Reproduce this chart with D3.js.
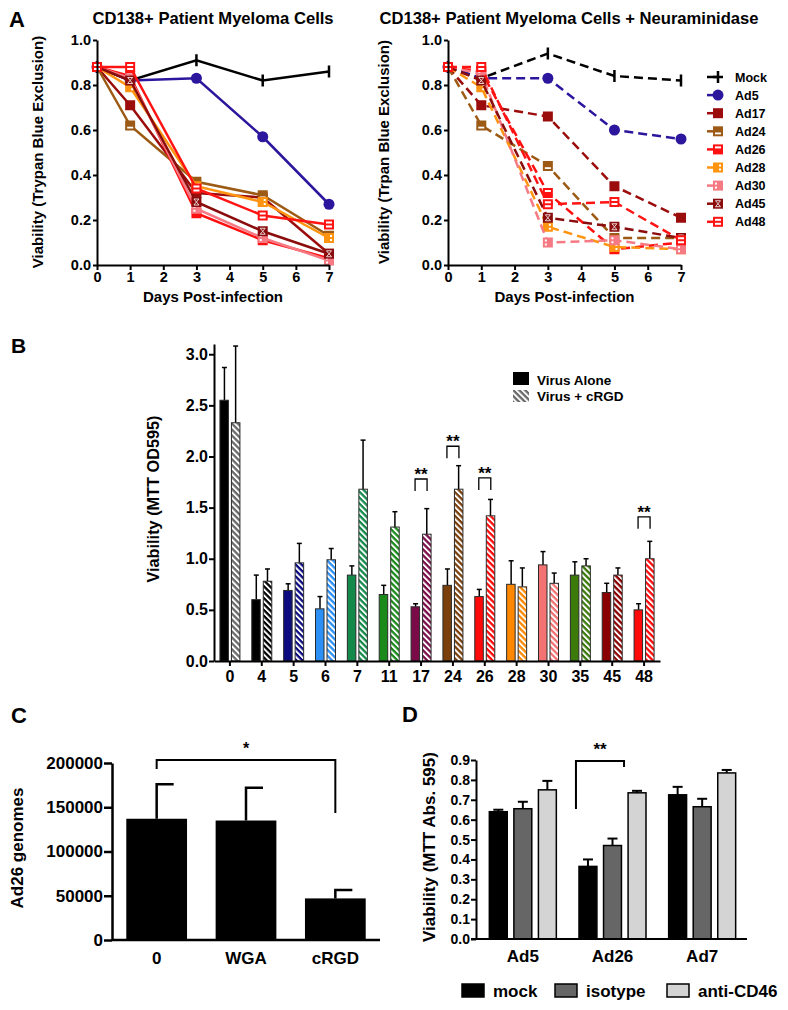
<!DOCTYPE html>
<html><head><meta charset="utf-8">
<script src="https://cdn.jsdelivr.net/npm/d3@7"></script>
<style>
body{margin:0;background:#fff}
svg{display:block}
text{font-family:"Liberation Sans",Arial,Helvetica,sans-serif;font-weight:bold;fill:#000}
</style></head><body>
<svg id="fig" width="788" height="1010"></svg>
<script>
// ---------- Panel A data ----------
const daysA = [0, 1, 3, 5, 7];
const seriesA = ["Mock","Ad5","Ad17","Ad24","Ad26","Ad28","Ad30","Ad45","Ad48"];
const colorsA = ["#000000","#2d169e","#9b0c0c","#9c5a14","#ff1010","#ff9410","#f57a84","#8a0c0c","#ff1414"];
// rows follow seriesA order
const viabilityCells = [
  [0.88,0.82,0.91,0.82,0.86],
  [0.88,0.82,0.83,0.57,0.27],
  [0.88,0.71,0.32,0.30,0.05],
  [0.88,0.62,0.37,0.31,0.13],
  [0.88,0.84,0.23,0.11,0.03],
  [0.88,0.79,0.35,0.28,0.12],
  [0.88,0.83,0.25,0.12,0.02],
  [0.88,0.82,0.28,0.15,0.05],
  [0.88,0.88,0.34,0.22,0.18]
];
const viabilityNeu = [
  [0.88,0.83,0.94,0.84,0.82],
  [0.88,0.83,0.83,0.60,0.56],
  [0.88,0.71,0.66,0.35,0.21],
  [0.88,0.62,0.44,0.12,0.12],
  [0.88,0.86,0.32,0.07,0.10],
  [0.88,0.79,0.17,0.08,0.07],
  [0.88,0.85,0.10,0.11,0.07],
  [0.88,0.82,0.21,0.17,0.12],
  [0.88,0.88,0.27,0.28,0.11]
];
const ticksA = [0,0.2,0.4,0.6,0.8,1.0];

// ---------- Panel B data ----------
const virusesB = ["0","4","5","6","7","11","17","24","26","28","30","35","45","48"];
const aloneB    = [2.55,0.60,0.69,0.51,0.84,0.65,0.53,0.74,0.63,0.75,0.94,0.84,0.67,0.50];
const aloneTopB = [2.87,0.84,0.755,0.63,0.93,0.74,0.56,0.90,0.70,0.98,1.07,0.97,0.76,0.56];
const rgdB      = [2.33,0.78,0.96,0.99,1.68,1.31,1.24,1.68,1.42,0.725,0.76,0.93,0.84,1.00];
const rgdTopB   = [3.08,0.90,1.15,1.10,2.16,1.46,1.49,1.91,1.58,0.91,0.86,1.00,0.91,1.17];
const aloneColorsB = ["#000000","#000000","#0c0c80","#2b8ff5","#138a4a","#1a8a1a","#7b0a48","#7a3f0a","#ff0a0a","#ff8800","#f47272","#3c7a0a","#8b0000","#ff0a0a"];
const rgdColorsB   = ["#6a6a6a","#000000","#0c0c80","#2b8ff5","#138a4a","#1a8a1a","#7b0a48","#7a3f0a","#ff0a0a","#ff8800","#f47272","#3c7a0a","#8b0000","#ff0a0a"];
const sigVirusesB = ["17","24","26","48"];
const sigTopB = [1.78,2.10,1.79,1.41];
const ticksB = [0,0.5,1.0,1.5,2.0,2.5,3.0];

// ---------- Panel C data ----------
const catsC = ["0","WGA","cRGD"];
const genomesC = [137000,135000,47000];
const genomesTopC = [176000,172000,56500];
const ticksC = [0,50000,100000,150000,200000];

// ---------- Panel D data ----------
const groupsD = ["Ad5","Ad26","Ad7"];
const seriesD = ["mock","isotype","anti-CD46"];
const colorsD = ["#000000","#666666","#d4d4d4"];
const mockD = [0.64,0.365,0.725];
const isotypeD = [0.655,0.47,0.665];
const antiD = [0.75,0.735,0.835];
const mockTopD = [0.65,0.40,0.765];
const isotypeTopD = [0.69,0.505,0.705];
const antiTopD = [0.795,0.745,0.85];
const ticksD = [0,0.1,0.2,0.3,0.4,0.5,0.6,0.7,0.8,0.9];

const svg = d3.select("#fig");
const defs = svg.append("defs");

function styleAxis(g, width, fontSize) {
  g.select(".domain").attr("stroke","#000").attr("stroke-width",width);
  g.selectAll(".tick line").attr("stroke","#000").attr("stroke-width",width);
  g.selectAll(".tick text").style("font-size",fontSize+"px").style("font-family","'Liberation Sans',Arial,sans-serif").style("font-weight","bold").attr("fill","#000");
}
function label(x,y,txt,size,anchor,rot){
  const t = svg.append("text").attr("transform",`translate(${x},${y})`+(rot?` rotate(${rot})`:""))
    .attr("text-anchor",anchor||"middle").style("font-size",size+"px").text(txt);
  return t;
}

// ---------- Panel A ----------
const yA = d3.scaleLinear().domain([0,1]).range([265,40]);
const xA1 = d3.scaleLinear().domain([0,7]).range([97,329]);
const xA2 = d3.scaleLinear().domain([0,7]).range([448,681]);

function marker(g, name, color, x, y, legend) {
  const m = g.append("g").attr("transform",`translate(${x},${y})`);
  if (name === "Mock") {
    m.append("path").attr("d", legend ? "M-5,0H5M0,-6V6" : "M0,-6V6").attr("stroke","#000").attr("stroke-width",2.5).attr("fill","none");
    return;
  }
  if (name === "Ad5") { m.append("circle").attr("r",5.5).attr("fill",color); return; }
  m.append("rect").attr("x",-5).attr("y",-5).attr("width",10).attr("height",10).attr("fill",color);
  const w = "#ffffff";
  if (name === "Ad24") m.append("rect").attr("x",-3).attr("y",1.2).attr("width",6).attr("height",1.8).attr("fill",w);
  if (name === "Ad26") m.append("rect").attr("x",-3).attr("y",-3).attr("width",6).attr("height",2).attr("fill",w);
  if (name === "Ad28" || name === "Ad30") {
    const dx = name === "Ad28" ? 1 : -3;
    m.append("rect").attr("x",dx).attr("y",-3).attr("width",2).attr("height",2).attr("fill",w);
    m.append("rect").attr("x",dx).attr("y",1).attr("width",2).attr("height",2).attr("fill",w);
  }
  if (name === "Ad45") m.append("path").attr("d","M-2.5,-3H2.5L0,0L2.5,3H-2.5L0,0Z").attr("fill","none").attr("stroke",w).attr("stroke-width",0.8);
  if (name === "Ad48") {
    m.append("rect").attr("x",-3).attr("y",-3).attr("width",6).attr("height",2).attr("fill",w);
    m.append("rect").attr("x",-3).attr("y",1).attr("width",6).attr("height",2).attr("fill",w);
  }
}

function panelA(xS, data, dashed) {
  const g = svg.append("g");
  const line = d3.line().x((d,j)=>xS(daysA[j])).y(d=>yA(d));
  seriesA.forEach((name,i)=>{
    g.append("path").datum(data[i]).attr("d",line).attr("fill","none")
      .attr("stroke",colorsA[i]).attr("stroke-width",2.5)
      .attr("stroke-dasharray", dashed ? "9,5" : null);
    data[i].forEach((v,j)=>marker(g,name,colorsA[i],xS(daysA[j]),yA(v)));
  });
  const ya = svg.append("g").attr("transform",`translate(${xS.range()[0]},0)`)
    .call(d3.axisLeft(yA).tickValues(ticksA).tickFormat(d3.format(".1f")).tickSize(4).tickPadding(2).tickSizeOuter(0));
  styleAxis(ya,2,14.5);
  const xa = svg.append("g").attr("transform",`translate(0,${yA(0)})`)
    .call(d3.axisBottom(xS).ticks(8).tickFormat(d3.format("d")).tickSize(5).tickPadding(2).tickSizeOuter(0));
  styleAxis(xa,2,14.5);
  const cx = (xS.range()[0]+xS.range()[1])/2;
  label(cx,302,"Days Post-infection",15);
}
panelA(xA1, viabilityCells, false);
panelA(xA2, viabilityNeu, true);
label(213,24,"CD138+ Patient Myeloma Cells",16.6);
label(569,24,"CD138+ Patient Myeloma Cells + Neuraminidase",16.6);
label(43,152,"Viability (Trypan Blue Exclusion)",15,"middle",-90);
label(389,152,"Viability (Trpan Blue Exclusion)",15,"middle",-90);
label(9,27,"A",22,"start");

// legend A
const legA = svg.append("g");
seriesA.forEach((name,i)=>{
  const y = 77 + i*18.1;
  legA.append("line").attr("x1",707).attr("x2",718).attr("y1",y).attr("y2",y).attr("stroke",colorsA[i]).attr("stroke-width",2.5);
  marker(legA,name,colorsA[i],718,y,true);
  legA.append("text").attr("x",735).attr("y",y+4.5).style("font-size","12.5px").text(name);
});

// ---------- Panel B ----------
function hatch(id, color) {
  const p = defs.append("pattern").attr("id",id).attr("patternUnits","userSpaceOnUse")
    .attr("width",4.2).attr("height",4.2).attr("patternTransform","rotate(-45)");
  p.append("rect").attr("width",4.2).attr("height",4.2).attr("fill",color);
  p.append("rect").attr("width",1.9).attr("height",4.2).attr("fill","#ffffff");
}
const xB = d3.scaleBand().domain(virusesB).range([214,660]);
const yB = d3.scaleLinear().domain([0,3.1]).range([661,344]);
const gB = svg.append("g");
virusesB.forEach((v,i)=>{
  const c = xB(v) + xB.bandwidth()/2;
  hatch("hB"+i, rgdColorsB[i]);
  // virus alone
  gB.append("line").attr("x1",c-5.5).attr("x2",c-5.5).attr("y1",yB(aloneB[i])).attr("y2",yB(aloneTopB[i])).attr("stroke","#000").attr("stroke-width",1.5);
  gB.append("line").attr("x1",c-8).attr("x2",c-3).attr("y1",yB(aloneTopB[i])).attr("y2",yB(aloneTopB[i])).attr("stroke","#000").attr("stroke-width",1.5);
  gB.append("rect").attr("x",c-10).attr("width",8.5).attr("y",yB(aloneB[i])).attr("height",yB(0)-yB(aloneB[i]))
    .attr("fill",aloneColorsB[i]).attr("stroke","#2a2a2a").attr("stroke-width",1);
  // virus + cRGD
  gB.append("line").attr("x1",c+5.7).attr("x2",c+5.7).attr("y1",yB(rgdB[i])).attr("y2",yB(rgdTopB[i])).attr("stroke","#000").attr("stroke-width",1.5);
  gB.append("line").attr("x1",c+3.2).attr("x2",c+8.2).attr("y1",yB(rgdTopB[i])).attr("y2",yB(rgdTopB[i])).attr("stroke","#000").attr("stroke-width",1.5);
  gB.append("rect").attr("x",c+1.5).attr("width",8.5).attr("y",yB(rgdB[i])).attr("height",yB(0)-yB(rgdB[i]))
    .attr("fill",`url(#hB${i})`).attr("stroke","#2a2a2a").attr("stroke-width",1);
});
sigVirusesB.forEach((v,k)=>{
  const c = xB(v) + xB.bandwidth()/2;
  const yt = yB(sigTopB[k]);
  gB.append("path").attr("d",`M${c-6},${yt+12}V${yt}H${c+6}V${yt+12}`).attr("fill","none").attr("stroke","#000").attr("stroke-width",1.3);
  gB.append("text").attr("x",c).attr("y",yt+1).attr("text-anchor","middle").style("font-size","17px").text("**");
});
const yaB = svg.append("g").attr("transform","translate(214,0)")
  .call(d3.axisLeft(yB).tickValues(ticksB).tickFormat(d3.format(".1f")).tickSize(5).tickPadding(1).tickSizeOuter(0));
styleAxis(yaB,2,16);
const xaB = svg.append("g").attr("transform",`translate(0,${yB(0)})`)
  .call(d3.axisBottom(xB).tickSize(5).tickPadding(5).tickSizeOuter(0));
styleAxis(xaB,2,16);
label(159,499,"Viability (MTT OD595)",16.3,"middle",-90);
label(11,353,"B",21,"start");
hatch("hLeg","#6a6a6a");
svg.append("rect").attr("x",513).attr("y",372).attr("width",16).attr("height",13).attr("fill","#000");
svg.append("rect").attr("x",513).attr("y",390).attr("width",16).attr("height",12).attr("fill","url(#hLeg)");
svg.append("text").attr("x",537).attr("y",385).style("font-size","13.5px").text("Virus Alone");
svg.append("text").attr("x",537).attr("y",401).style("font-size","13.5px").text("Virus + cRGD");

// ---------- Panel C ----------
const xC = d3.scaleBand().domain(catsC).range([112,380]).paddingInner(0.32).paddingOuter(0.16);
const yC = d3.scaleLinear().domain([0,200000]).range([940,763]);
const gC = svg.append("g");
catsC.forEach((c,i)=>{
  const cx = xC(c) + xC.bandwidth()/2;
  gC.append("path").attr("d",`M${cx},${yC(genomesC[i])}V${yC(genomesTopC[i])}H${cx+17}`).attr("fill","none").attr("stroke","#000").attr("stroke-width",2.5);
  gC.append("rect").attr("x",xC(c)).attr("width",xC.bandwidth()).attr("y",yC(genomesC[i])).attr("height",yC(0)-yC(genomesC[i])).attr("fill","#000");
});
{
  const a = xC("0")+xC.bandwidth()/2, b = xC("cRGD")+xC.bandwidth()/2;
  gC.append("path").attr("d",`M${a},769V760H${b}V813`).attr("fill","none").attr("stroke","#000").attr("stroke-width",2);
  gC.append("text").attr("x",(a+b)/2).attr("y",754).attr("text-anchor","middle").style("font-size","16px").text("*");
}
const yaC = svg.append("g").attr("transform","translate(112,0)")
  .call(d3.axisLeft(yC).tickValues(ticksC).tickFormat(d3.format("d")).tickSize(8).tickPadding(1).tickSizeOuter(0));
styleAxis(yaC,2.5,17);
const xaC = svg.append("g").attr("transform",`translate(0,${yC(0)})`)
  .call(d3.axisBottom(xC).tickSize(0).tickPadding(12).tickSizeOuter(0));
styleAxis(xaC,2.5,17);
xaC.select(".domain").attr("d","M112,0H380");
label(23,848,"Ad26 genomes",17,"middle",-90);
label(11,723,"C",22,"start");

// ---------- Panel D ----------
const xD = d3.scaleBand().domain(groupsD).range([478,747]);
const xDin = d3.scaleBand().domain(seriesD).range([-33.5,33.5]).paddingInner(0.27);
const yD = d3.scaleLinear().domain([0,0.9]).range([939,760]);
const valsD = [mockD, isotypeD, antiD];
const topsD = [mockTopD, isotypeTopD, antiTopD];
const gD = svg.append("g");
groupsD.forEach((grp,gi)=>{
  const gc = xD(grp) + xD.bandwidth()/2;
  seriesD.forEach((s,si)=>{
    const x0 = gc + xDin(s);
    const bc = x0 + xDin.bandwidth()/2;
    const v = valsD[si][gi], t = topsD[si][gi];
    gD.append("line").attr("x1",bc).attr("x2",bc).attr("y1",yD(v)).attr("y2",yD(t)).attr("stroke","#000").attr("stroke-width",2);
    gD.append("line").attr("x1",bc-5).attr("x2",bc+5).attr("y1",yD(t)).attr("y2",yD(t)).attr("stroke","#000").attr("stroke-width",2);
    gD.append("rect").attr("x",x0).attr("width",xDin.bandwidth()).attr("y",yD(v)).attr("height",yD(0)-yD(v))
      .attr("fill",colorsD[si]).attr("stroke","#000").attr("stroke-width",1.5);
  });
});
{
  const gc = xD("Ad26") + xD.bandwidth()/2;
  const a = gc + xDin("mock") + xDin.bandwidth()/2 - 12;
  const b = gc + xDin("anti-CD46") + xDin.bandwidth()/2 - 13;
  gD.append("path").attr("d",`M${a},809V761H${b}V767`).attr("fill","none").attr("stroke","#000").attr("stroke-width",2);
  gD.append("text").attr("x",(a+b)/2).attr("y",755).attr("text-anchor","middle").style("font-size","17px").text("**");
}
const yaD = svg.append("g").attr("transform","translate(476,0)")
  .call(d3.axisLeft(yD).tickValues(ticksD).tickFormat(d3.format(".1f")).tickSize(5).tickPadding(1).tickSizeOuter(0));
styleAxis(yaD,2,14);
const xaD = svg.append("g").attr("transform",`translate(0,${yD(0)})`)
  .call(d3.axisBottom(xD).tickSize(0).tickPadding(11).tickSizeOuter(0));
styleAxis(xaD,2,17);
xaD.select(".domain").attr("d","M471,0H747");
label(435,847,"Viability (MTT Abs. 595)",17,"middle",-90);
label(402,722,"D",22,"start");
const legX = [462,555,667];
seriesD.forEach((s,i)=>{
  svg.append("rect").attr("x",legX[i]).attr("y",984).attr("width",22).attr("height",13).attr("fill",colorsD[i]).attr("stroke","#000").attr("stroke-width",1.5);
  svg.append("text").attr("x",legX[i]+31).attr("y",997).style("font-size","17px").text(s);
});
</script>
</body></html>
